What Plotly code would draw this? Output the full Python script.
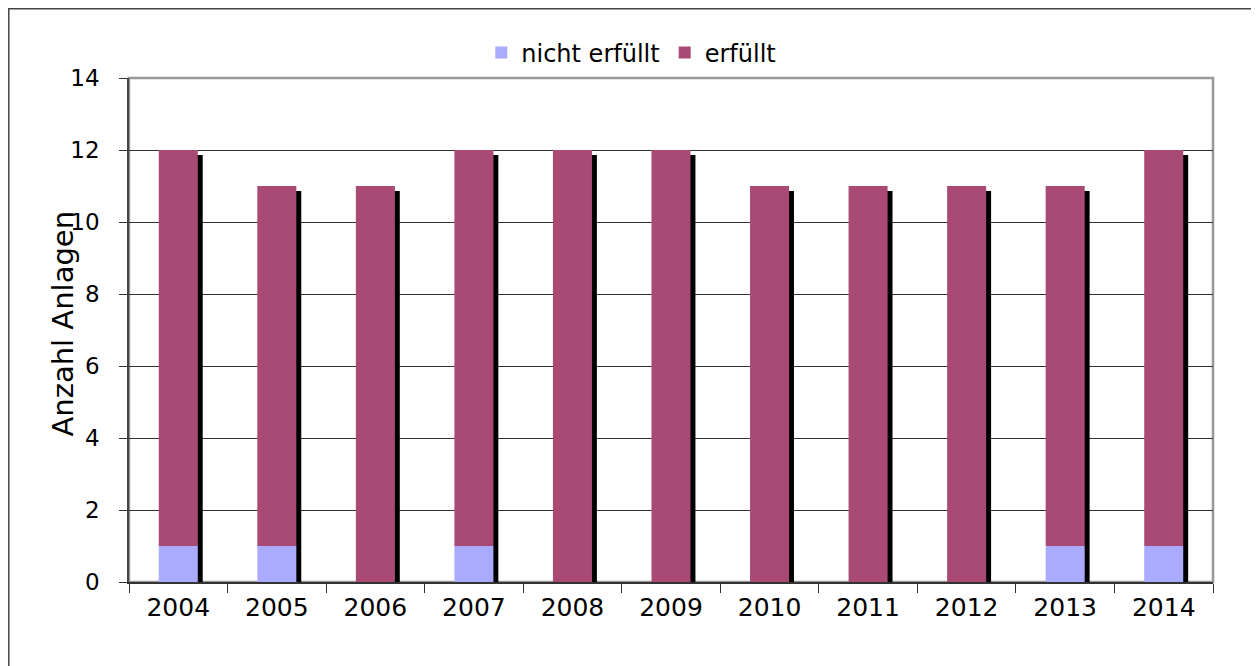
import plotly.graph_objects as go

years = ["2004", "2005", "2006", "2007", "2008", "2009", "2010", "2011", "2012", "2013", "2014"]
nicht_erfuellt = [1, 1, 0, 1, 0, 0, 0, 0, 0, 1, 1]
erfuellt = [11, 10, 11, 11, 12, 12, 11, 11, 11, 10, 11]
totals = [a + b for a, b in zip(nicht_erfuellt, erfuellt)]

BAR_W = 0.396
SH_DX = 0.05
SH_DY = 0.14
FONT = "DejaVu Sans"

fig = go.Figure()
# shadow
fig.add_trace(go.Bar(
    x=years, y=totals, base=-SH_DY,
    width=BAR_W, offset=-BAR_W / 2 + SH_DX,
    marker=dict(color="black", line=dict(width=0)),
    showlegend=False, hoverinfo="skip"))
fig.add_trace(go.Bar(
    x=years, y=nicht_erfuellt, base=0, name="nicht erfüllt",
    width=BAR_W, offset=-BAR_W / 2,
    marker=dict(color="#AAAAFF", line=dict(width=0))))
fig.add_trace(go.Bar(
    x=years, y=erfuellt, base=nicht_erfuellt, name="erfüllt",
    width=BAR_W, offset=-BAR_W / 2,
    marker=dict(color="#A94A74", line=dict(width=0))))

fig.update_layout(
    width=1251, height=658,
    margin=dict(l=121, r=46, t=70, b=84),
    barmode="overlay",
    paper_bgcolor="white", plot_bgcolor="white",
    font=dict(family=FONT, size=24, color="black"),
    showlegend=True,
    legend=dict(orientation="h", x=0.325, xanchor="left", y=1.0496, yanchor="middle",
                font=dict(size=24), itemwidth=30, bgcolor="rgba(0,0,0,0)"),
    xaxis=dict(type="category", tickson="boundaries", ticks="outside", ticklen=9,
               tickcolor="#333333", showline=True, linecolor="#333333", linewidth=1.5,
               showgrid=False, tickfont=dict(size=25), range=[-0.5, 10.5],
               ticklabelstandoff=2),
    yaxis=dict(range=[0, 14], dtick=2, ticks="outside", ticklen=8, tickcolor="#333333",
               showline=True, linecolor="#444444", linewidth=1.5,
               showgrid=True, gridcolor="#303030", gridwidth=1, zeroline=False,
               tickfont=dict(size=23), ticklabelstandoff=15),
    annotations=[
        dict(text="Anzahl Anlagen", xref="paper", yref="paper", x=-0.0613, y=0.512,
             xanchor="center", yanchor="middle", textangle=-90, showarrow=False,
             font=dict(size=29, family=FONT, color="black")),
    ],
    shapes=[
        dict(type="rect", xref="paper", yref="paper", x0=0, x1=1, y0=0, y1=1,
             line=dict(color="#999999", width=2.5), layer="below"),
        dict(type="rect", xref="paper", yref="paper", x0=-0.1109, x1=1.05, y0=-0.2, y1=1.1375,
             line=dict(color="#444444", width=1.5), layer="below"),
    ],
)

fig.write_html("out.html")
